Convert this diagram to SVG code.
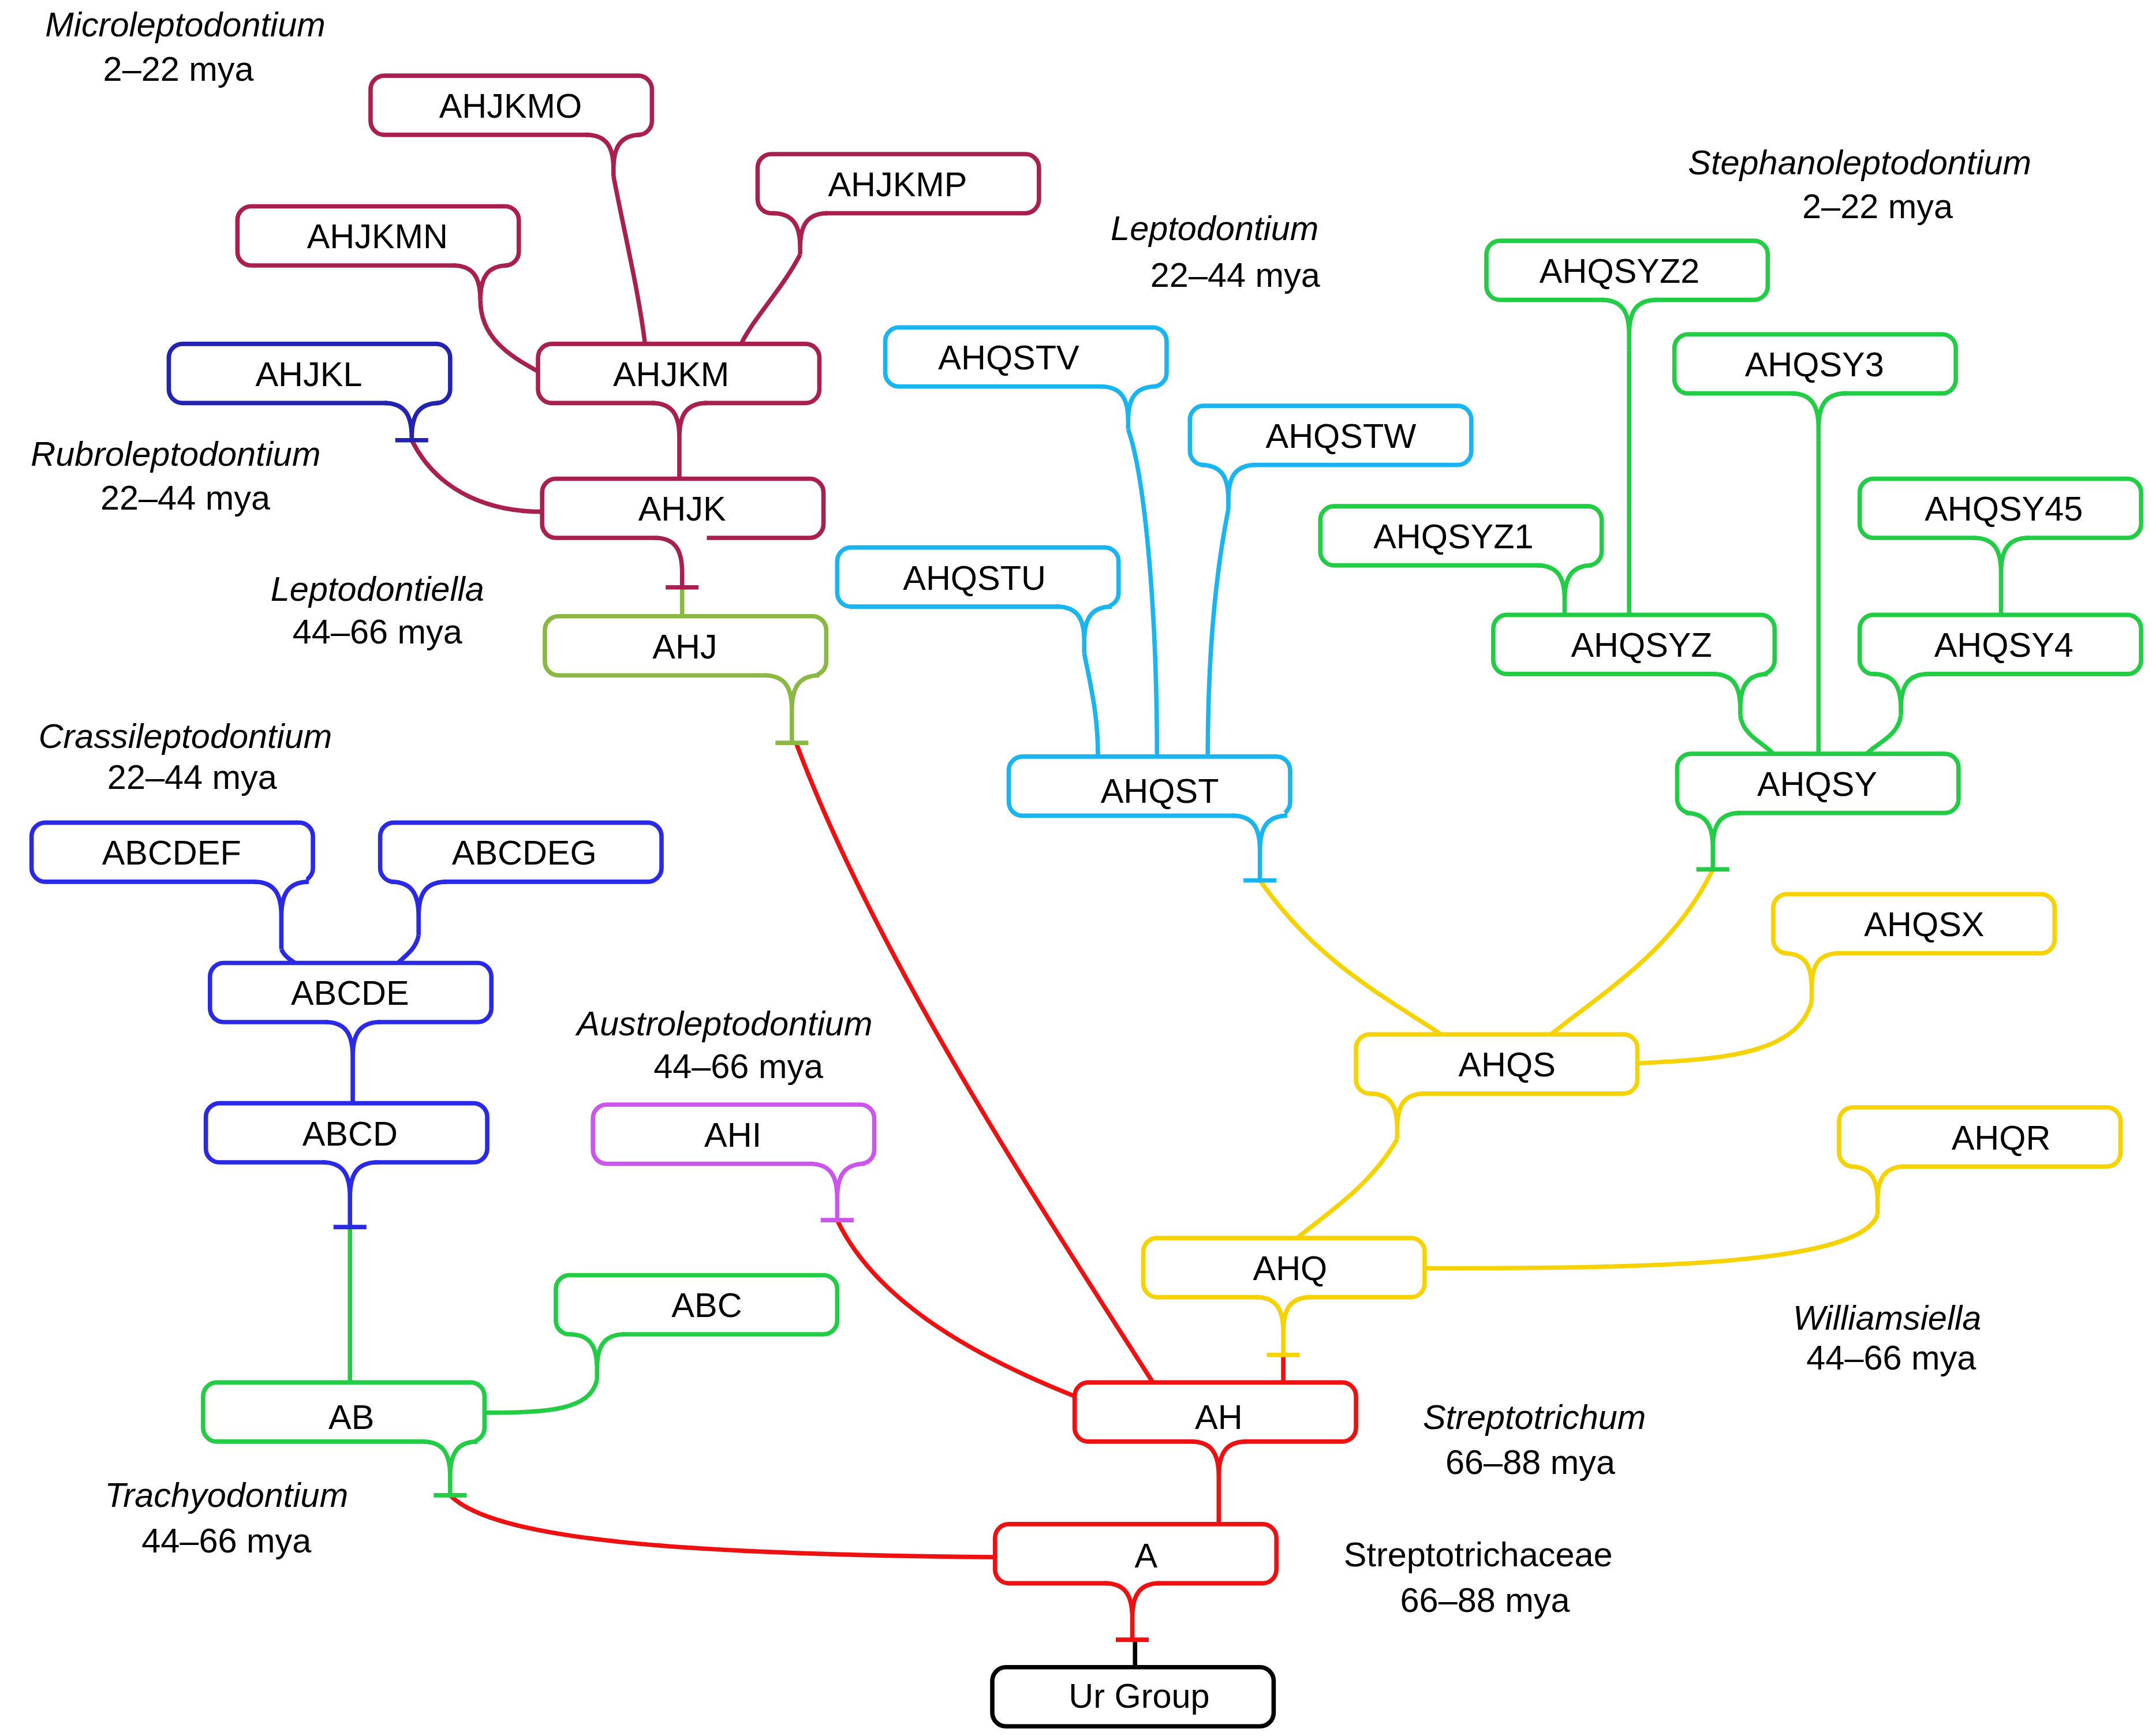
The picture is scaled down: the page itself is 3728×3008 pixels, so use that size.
<svg xmlns="http://www.w3.org/2000/svg" width="3728" height="3008" viewBox="0 0 3728 3008">
<style>
rect.b{fill:#fff;stroke-width:3.2}
.g{stroke:#fff;stroke-width:6;fill:none}
.f,.c{fill:none;stroke-width:3.2}
text{font-family:"Liberation Sans",Arial,sans-serif;font-size:25px;text-anchor:middle;dominant-baseline:central;fill:#000}
.i{font-style:italic}
.m{stroke:#a8204f}.db{stroke:#2323b0}.bl{stroke:#2a2ae6}.gr{stroke:#22cc44}.ol{stroke:#8ab843}.cy{stroke:#1ab4f0}.ye{stroke:#f6d200}.vi{stroke:#cc55ee}.rd{stroke:#ee1111}.bk{stroke:#000}
</style>
<rect width="3728" height="3008" fill="#fff"/>
<g transform="scale(2.3776,2.3835)">
<g id="connectors">
<path class="c m" d="M447,128 C455,170 465,210 470,250"/>
<path class="c m" d="M583,185 C570,210 550,230 540,250"/>
<path class="c m" d="M350,218 C350,245 370,258 392,270"/>
<path class="c m" d="M300,320 C320,360 360,372 395,372"/>
<path class="c ol" d="M497,427 V448"/>
<path class="c rd" d="M580,540 C640,700 760,880 840,1005"/>
<path class="c cy" d="M822,312 C835,350 843,450 843,550"/>
<path class="c cy" d="M895,370 C885,420 880,480 880,550"/>
<path class="c cy" d="M790,475 C795,500 800,520 800,550"/>
<path class="c ye" d="M918,640 C960,700 1010,725 1050,752"/>
<path class="c gr" d="M1187,255 V447"/>
<path class="c gr" d="M1325,320 V548"/>
<path class="c gr" d="M1268,520 C1270,535 1285,540 1292,548"/>
<path class="c gr" d="M1385,520 C1383,535 1368,540 1360,548"/>
<path class="c ye" d="M1248,632 C1220,690 1170,720 1130,752"/>
<path class="c ye" d="M1320,728 C1310,765 1260,770 1193,773"/>
<path class="c ye" d="M1018,828 C1000,860 970,880 945,900"/>
<path class="c ye" d="M1368,883 C1355,920 1200,922 1038,922"/>
<path class="c rd" d="M935,985 V1005"/>
<path class="c rd" d="M610,887 C640,950 720,990 783,1015"/>
<path class="c bl" d="M205,690 C207,695 212,698 215,700"/>
<path class="c bl" d="M305,680 C303,690 295,695 290,700"/>
<path class="c gr" d="M255,892 V1005"/>
<path class="c gr" d="M435,1003 C430,1025 400,1027 353,1027"/>
<path class="c rd" d="M328,1087 C360,1120 500,1130 725,1132"/>
<path class="c bk" d="M827,1192 V1212"/>
</g>
<g id="AHJKMO" transform="translate(270,55)"><rect class="b m" width="205" height="43" rx="10"/><path class="g" d="M159,43H195"/><path class="f m" d="M157,43 C172,43 177,52 177,68 M197,43 C182,43 177,52 177,68 V73"/><text x="102" y="22">AHJKMO</text></g>
<g id="AHJKMP" transform="translate(552,112)"><rect class="b m" width="205" height="43" rx="10"/><path class="g" d="M13,43H49"/><path class="f m" d="M11,43 C26,43 31,52 31,68 M51,43 C36,43 31,52 31,68 V73"/><text x="102" y="22">AHJKMP</text></g>
<g id="AHJKMN" transform="translate(173,150)"><rect class="b m" width="205" height="43" rx="10"/><path class="g" d="M159,43H195"/><path class="f m" d="M157,43 C172,43 177,52 177,68"/><path class="f m" d="M197,43 C182,43 177,52 177,68"/><text x="102" y="22">AHJKMN</text></g>
<g id="AHJKL" transform="translate(123,250)"><rect class="b db" width="205" height="43" rx="10"/><path class="g" d="M159,43H195"/><path class="f db" d="M157,43 C172,43 177,52 177,68 M197,43 C182,43 177,52 177,68 V70 M165,70 H189"/><text x="102" y="22">AHJKL</text></g>
<g id="AHJKM" transform="translate(392,250)"><rect class="b m" width="205" height="43" rx="10"/><path class="g" d="M85,43H121"/><path class="f m" d="M83,43 C98,43 103,52 103,68 M123,43 C108,43 103,52 103,68 V98"/><text x="97" y="22">AHJKM</text></g>
<g id="AHJK" transform="translate(395,348)"><rect class="b m" width="205" height="43" rx="10"/><path class="g" d="M84,43H120"/><path class="f m" d="M82,43 C97,43 102,52 102,68 V79 M90,79 H114"/><text x="102" y="22">AHJK</text></g>
<g id="AHJ" transform="translate(397,448)"><rect class="b ol" width="205" height="43" rx="10"/><path class="g" d="M162,43H198"/><path class="f ol" d="M160,43 C175,43 180,52 180,68 M200,43 C185,43 180,52 180,68 V92 M168,92 H192"/><text x="102" y="22">AHJ</text></g>
<g id="AHQSTV" transform="translate(645,238)"><rect class="b cy" width="205" height="43" rx="10"/><path class="g" d="M159,43H195"/><path class="f cy" d="M157,43 C172,43 177,52 177,68 M197,43 C182,43 177,52 177,68 V74"/><text x="90" y="22">AHQSTV</text></g>
<g id="AHQSTW" transform="translate(867,295)"><rect class="b cy" width="205" height="43" rx="10"/><path class="g" d="M10,43H46"/><path class="f cy" d="M8,43 C23,43 28,52 28,68 M48,43 C33,43 28,52 28,68 V75"/><text x="110" y="22">AHQSTW</text></g>
<g id="AHQSTU" transform="translate(610,398)"><rect class="b cy" width="205" height="43" rx="10"/><path class="g" d="M162,43H198"/><path class="f cy" d="M160,43 C175,43 180,52 180,68 M200,43 C185,43 180,52 180,68 V77"/><text x="100" y="22">AHQSTU</text></g>
<g id="AHQST" transform="translate(735,550)"><rect class="b cy" width="205" height="43" rx="10"/><path class="g" d="M165,43H201"/><path class="f cy" d="M163,43 C178,43 183,52 183,68 M203,43 C188,43 183,52 183,68 V90 M171,90 H195"/><text x="110" y="25">AHQST</text></g>
<g id="AHQSYZ2" transform="translate(1083,175)"><rect class="b gr" width="205" height="43" rx="10"/><path class="g" d="M86,43H122"/><path class="f gr" d="M84,43 C99,43 104,52 104,68 M124,43 C109,43 104,52 104,68 V80"/><text x="97" y="22">AHQSYZ2</text></g>
<g id="AHQSY3" transform="translate(1220,243)"><rect class="b gr" width="205" height="43" rx="10"/><path class="g" d="M87,43H123"/><path class="f gr" d="M85,43 C100,43 105,52 105,68 M125,43 C110,43 105,52 105,68 V77"/><text x="102" y="22">AHQSY3</text></g>
<g id="AHQSYZ1" transform="translate(962,368)"><rect class="b gr" width="205" height="43" rx="10"/><path class="g" d="M160,43H196"/><path class="f gr" d="M158,43 C173,43 178,52 178,68 M198,43 C183,43 178,52 178,68 V79"/><text x="97" y="22">AHQSYZ1</text></g>
<g id="AHQSY45" transform="translate(1355,348)"><rect class="b gr" width="205" height="43" rx="10"/><path class="g" d="M85,43H121"/><path class="f gr" d="M83,43 C98,43 103,52 103,68 M123,43 C108,43 103,52 103,68 V99"/><text x="105" y="22">AHQSY45</text></g>
<g id="AHQSYZ" transform="translate(1088,447)"><rect class="b gr" width="205" height="43" rx="10"/><path class="g" d="M162,43H198"/><path class="f gr" d="M160,43 C175,43 180,52 180,68 M200,43 C185,43 180,52 180,68 V73"/><text x="108" y="22">AHQSYZ</text></g>
<g id="AHQSY4" transform="translate(1355,447)"><rect class="b gr" width="205" height="43" rx="10"/><path class="g" d="M12,43H48"/><path class="f gr" d="M10,43 C25,43 30,52 30,68 M50,43 C35,43 30,52 30,68 V73"/><text x="105" y="22">AHQSY4</text></g>
<g id="AHQSY" transform="translate(1222,548)"><rect class="b gr" width="205" height="43" rx="10"/><path class="g" d="M8,43H44"/><path class="f gr" d="M6,43 C21,43 26,52 26,68 M46,43 C31,43 26,52 26,68 V84 M14,84 H38"/><text x="102" y="22">AHQSY</text></g>
<g id="AHQSX" transform="translate(1292,650)"><rect class="b ye" width="205" height="43" rx="10"/><path class="g" d="M10,43H46"/><path class="f ye" d="M8,43 C23,43 28,52 28,68 M48,43 C33,43 28,52 28,68 V78"/><text x="110" y="22">AHQSX</text></g>
<g id="AHQS" transform="translate(988,752)"><rect class="b ye" width="205" height="43" rx="10"/><path class="g" d="M12,43H48"/><path class="f ye" d="M10,43 C25,43 30,52 30,68 M50,43 C35,43 30,52 30,68 V76"/><text x="110" y="22">AHQS</text></g>
<g id="AHQR" transform="translate(1340,805)"><rect class="b ye" width="205" height="43" rx="10"/><path class="g" d="M10,43H46"/><path class="f ye" d="M8,43 C23,43 28,52 28,68 M48,43 C33,43 28,52 28,68 V78"/><text x="118" y="22">AHQR</text></g>
<g id="AHQ" transform="translate(833,900)"><rect class="b ye" width="205" height="43" rx="10"/><path class="g" d="M84,43H120"/><path class="f ye" d="M82,43 C97,43 102,52 102,68 M122,43 C107,43 102,52 102,68 V85 M90,85 H114"/><text x="107" y="22">AHQ</text></g>
<g id="AHI" transform="translate(432,803)"><rect class="b vi" width="205" height="43" rx="10"/><path class="g" d="M160,43H196"/><path class="f vi" d="M158,43 C173,43 178,52 178,68 M198,43 C183,43 178,52 178,68 V84 M166,84 H190"/><text x="102" y="22">AHI</text></g>
<g id="AH" transform="translate(783,1005)"><rect class="b rd" width="205" height="43" rx="10"/><path class="g" d="M87,43H123"/><path class="f rd" d="M85,43 C100,43 105,52 105,68 M125,43 C110,43 105,52 105,68 V103"/><text x="105" y="25">AH</text></g>
<g id="ABCDEF" transform="translate(23,598)"><rect class="b bl" width="205" height="43" rx="10"/><path class="g" d="M164,43H200"/><path class="f bl" d="M162,43 C177,43 182,52 182,68 M202,43 C187,43 182,52 182,68 V92"/><text x="102" y="22">ABCDEF</text></g>
<g id="ABCDEG" transform="translate(277,598)"><rect class="b bl" width="205" height="43" rx="10"/><path class="g" d="M10,43H46"/><path class="f bl" d="M8,43 C23,43 28,52 28,68 M48,43 C33,43 28,52 28,68 V82"/><text x="105" y="22">ABCDEG</text></g>
<g id="ABCDE" transform="translate(153,700)"><rect class="b bl" width="205" height="43" rx="10"/><path class="g" d="M86,43H122"/><path class="f bl" d="M84,43 C99,43 104,52 104,68 M124,43 C109,43 104,52 104,68 V102"/><text x="102" y="22">ABCDE</text></g>
<g id="ABCD" transform="translate(150,802)"><rect class="b bl" width="205" height="43" rx="10"/><path class="g" d="M87,43H123"/><path class="f bl" d="M85,43 C100,43 105,52 105,68 M125,43 C110,43 105,52 105,68 V90 M93,90 H117"/><text x="105" y="22">ABCD</text></g>
<g id="ABC" transform="translate(405,927)"><rect class="b gr" width="205" height="43" rx="10"/><path class="g" d="M12,43H48"/><path class="f gr" d="M10,43 C25,43 30,52 30,68 M50,43 C35,43 30,52 30,68 V76"/><text x="110" y="22">ABC</text></g>
<g id="AB" transform="translate(148,1005)"><rect class="b gr" width="205" height="43" rx="10"/><path class="g" d="M162,43H198"/><path class="f gr" d="M160,43 C175,43 180,52 180,68 M200,43 C185,43 180,52 180,68 V82 M168,82 H192"/><text x="108" y="25">AB</text></g>
<g id="A" transform="translate(725,1108)"><rect class="b rd" width="205" height="43" rx="10"/><path class="g" d="M82,43H118"/><path class="f rd" d="M80,43 C95,43 100,52 100,68 M120,43 C105,43 100,52 100,68 V84 M88,84 H112"/><text x="110" y="23">A</text></g>
<g id="UrGroup" transform="translate(723,1212)"><rect class="b bk" width="205" height="43" rx="10"/><text x="107" y="21">Ur Group</text></g>
<g id="labels">
<text class="i" x="135" y="18">Microleptodontium</text><text x="130" y="50">2–22 mya</text>
<text class="i" x="1355" y="118">Stephanoleptodontium</text><text x="1368" y="150">2–22 mya</text>
<text class="i" x="885" y="166">Leptodontium</text><text x="900" y="200">22–44 mya</text>
<text class="i" x="128" y="330">Rubroleptodontium</text><text x="135" y="362">22–44 mya</text>
<text class="i" x="275" y="428">Leptodontiella</text><text x="275" y="459">44–66 mya</text>
<text class="i" x="135" y="535">Crassileptodontium</text><text x="140" y="565">22–44 mya</text>
<text class="i" x="528" y="744">Austroleptodontium</text><text x="538" y="775">44–66 mya</text>
<text class="i" x="1375" y="958">Williamsiella</text><text x="1378" y="987">44–66 mya</text>
<text class="i" x="1118" y="1030">Streptotrichum</text><text x="1115" y="1063">66–88 mya</text>
<text x="1077" y="1130">Streptotrichaceae</text><text x="1082" y="1163">66–88 mya</text>
<text class="i" x="165" y="1087">Trachyodontium</text><text x="165" y="1120">44–66 mya</text>
</g>
</g>
</svg>
